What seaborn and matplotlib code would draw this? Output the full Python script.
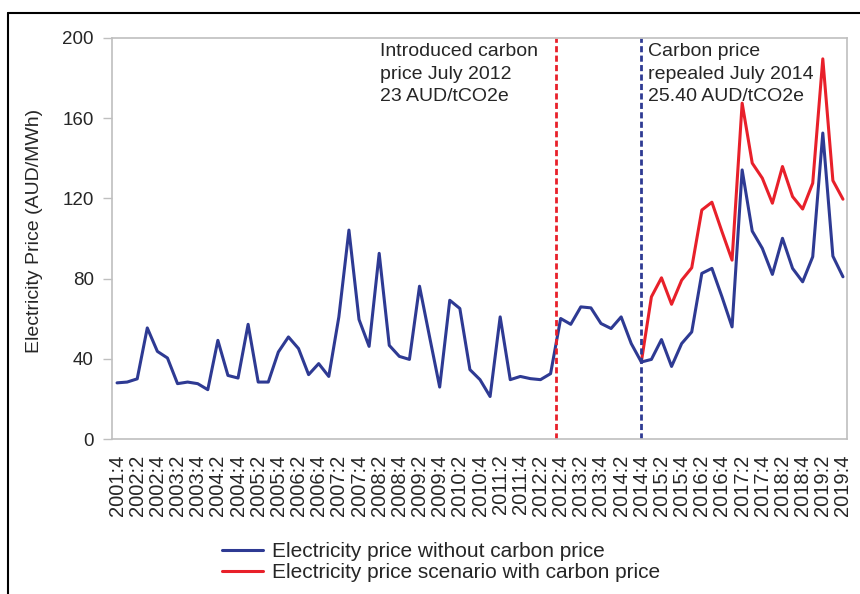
import numpy as np
import pandas as pd
import seaborn as sns
import matplotlib.pyplot as plt
from matplotlib.lines import Line2D

# quarterly categories 2001:4 .. 2019:4
quarters = [f"{y}:{q}" for y in range(2001, 2020) for q in range(1, 5)][3:]

price_no_carbon = [28, 28.4, 30, 55.4, 43.7, 40.4, 27.6, 28.4, 27.6, 24.6,
                   49.2, 31.7, 30.4, 57.2, 28.4, 28.4, 43.4, 50.9, 45.1, 32.1,
                   37.6, 31.2, 60.9, 104.2, 59.6, 46.2, 92.6, 46.7, 41.2, 39.7,
                   76.2, 50.9, 25.9, 69.2, 65.1, 34.6, 29.6, 21.2, 60.9, 29.6,
                   31.2, 30.1, 29.6, 32.6, 60.1, 57.2, 65.9, 65.4, 57.6, 55.1,
                   60.9, 47.6, 38.4, 39.7, 49.6, 36.2, 47.6, 53.4, 82.6, 85.1,
                   70.9, 55.9, 134.2, 103.7, 95.1, 82.1, 100.1, 85.1, 78.4, 90.9,
                   152.6, 91.2, 80.9]

# carbon price scenario starts at 2014:4
price_with_carbon = [38.4, 70.9, 80.4, 67.2, 79.2, 85.4, 114.2, 118.1, 103.4, 89.2,
                     167.5, 137.6, 130.1, 117.6, 135.9, 120.9, 114.7, 127.6, 189.6,
                     128.9, 119.6]

tick_labels = quarters[::2]
introduced_idx = 43.5   # July 2012
repealed_idx = 52       # 2014:4

blue = "#2E3A93"
red = "#E8202A"

n = len(quarters)
start = n - len(price_with_carbon)
df = pd.DataFrame({
    "idx": np.arange(n),
    "quarter": quarters,
    "no_carbon": price_no_carbon,
    "with_carbon": [np.nan] * start + price_with_carbon,
})

sns.set_theme(style="white")
plt.rcParams["font.family"] = ["Liberation Sans", "DejaVu Sans"]

fig = plt.figure(figsize=(8.6, 5.94), dpi=100)
ax = fig.add_axes([112/860, 1 - 439/594, 735/860, 401/594])

sns.lineplot(data=df, x="idx", y="with_carbon", color=red, lw=2.2, ax=ax,
             label="Electricity price scenario with carbon price")
sns.lineplot(data=df, x="idx", y="no_carbon", color=blue, lw=2.2, ax=ax,
             label="Electricity price without carbon price")

ax.axvline(introduced_idx, color=red, lw=2, ls=(0, (2.2, 1.2)))
ax.axvline(repealed_idx, color=blue, lw=2, ls=(0, (2.2, 1.2)))

ax.set_xlim(-0.5, 72.4)
ax.set_ylim(0, 200)
ax.set_yticks(np.arange(0, 201, 40))
ax.set_xticks(np.arange(0, n, 2))
ax.set_xticklabels(tick_labels, rotation=90, fontsize=14.5)
ax.tick_params(axis="x", length=0, pad=11)
ax.tick_params(axis="y", length=6.5, width=1, color="#bfbfbf", pad=6.5,
               labelsize=13.5, direction="out", left=True)
for s in ax.spines.values():
    s.set_color("#bfbfbf")
    s.set_linewidth(1.2)

ax.set_xlabel("")
ax.set_ylabel("Electricity Price (AUD/MWh)", fontsize=14)
ax.yaxis.set_label_coords(-0.094, 0.52)

ax.text(0.3646, 0.9875, "Introduced carbon\nprice July 2012\n23 AUD/tCO2e",
        transform=ax.transAxes, ha="left", va="top", fontsize=14, linespacing=1.43)
ax.text(0.729, 0.9875, "Carbon price\nrepealed July 2014\n25.40 AUD/tCO2e",
        transform=ax.transAxes, ha="left", va="top", fontsize=14, linespacing=1.43)

ax.get_legend().remove()
handles, labels = ax.get_legend_handles_labels()
fig.legend(handles[::-1], labels[::-1], loc="center left",
           bbox_to_anchor=(222/860, 1 - 562/594), frameon=False,
           fontsize=15, handlelength=1.97, handletextpad=0.43,
           borderpad=0, borderaxespad=0, labelspacing=0.1)

# black frame of the original image
fig.add_artist(Line2D([8/860, 1], [1 - 13/594, 1 - 13/594], color="black", lw=1.5,
                      transform=fig.transFigure))
fig.add_artist(Line2D([8/860, 8/860], [0, 1 - 13/594], color="black", lw=1.5,
                      transform=fig.transFigure))

fig.savefig("out.png", dpi=100)
